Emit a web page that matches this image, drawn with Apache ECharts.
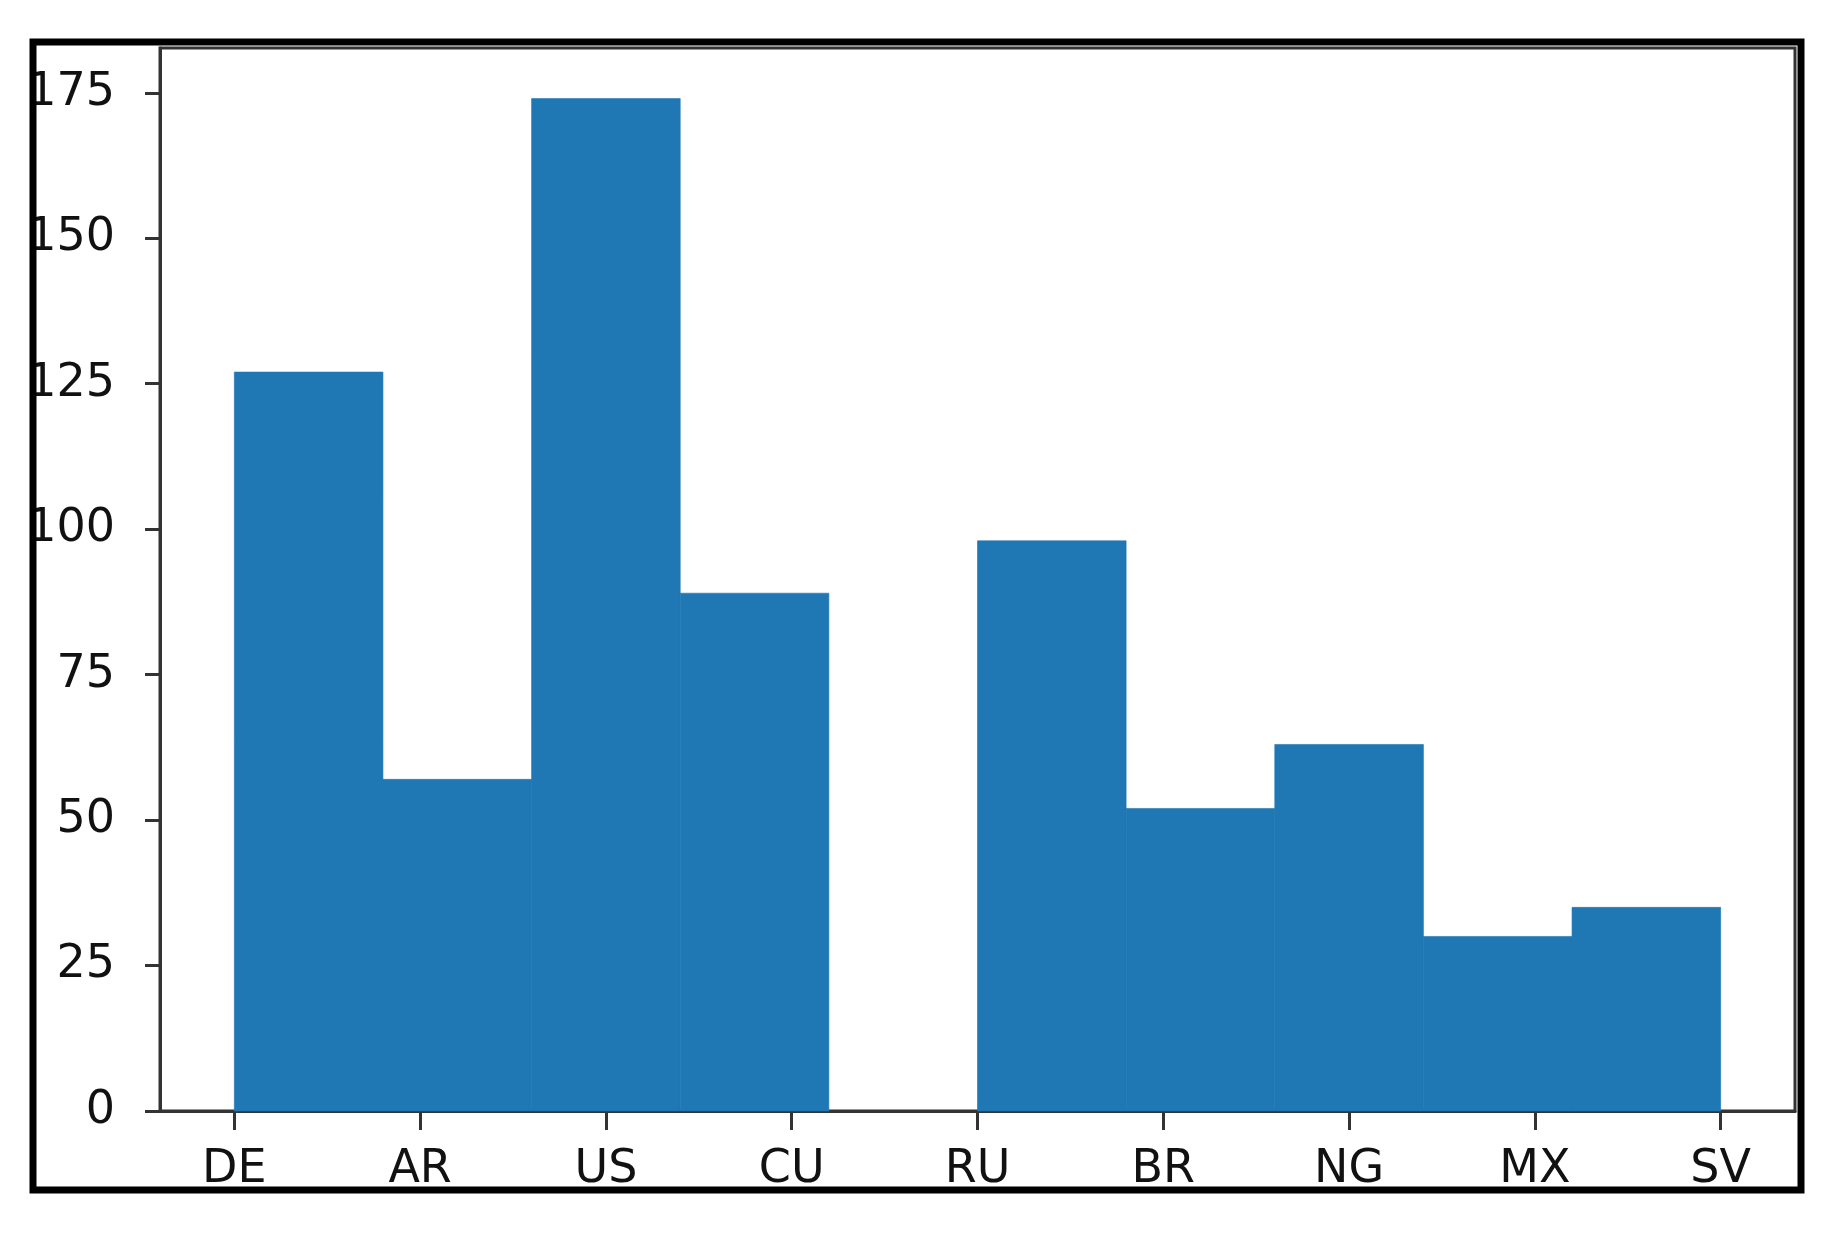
<!DOCTYPE html>
<html>
<head>
<meta charset="utf-8">
<script src="https://cdn.jsdelivr.net/npm/echarts@6/dist/echarts.min.js"></script>
<style>
html,body{margin:0;padding:0;background:#fff;}
#chart{width:1848px;height:1237px;}
</style>
</head>
<body>
<div id="chart"></div>
<script>
const categories = ['DE','AR','US','CU','RU','BR','NG','MX','SV'];
const categoryPositions = [0,1,2,3,4,5,6,7,8];
const binEdges = [0,0.8,1.6,2.4,3.2,4.0,4.8,5.6,6.4,7.2,8.0];
const counts = [127,57,174,89,0,98,52,63,30,35];
const yTicks = [0,25,50,75,100,125,150,175];

const histData = counts.map((c, i) => [binEdges[i], binEdges[i + 1], c]);

const chart = echarts.init(document.getElementById('chart'), null, {renderer: 'canvas'});
const axisColor = '#333';
const labelFont = {fontFamily: 'DejaVu Sans', fontSize: 46, color: '#111'};

chart.setOption({
  backgroundColor: '#fff',
  animation: false,
  grid: {left: 160, top: 48, right: 53, bottom: 126, show: true, borderColor: axisColor, borderWidth: 3, backgroundColor: 'transparent'},
  xAxis: {
    type: 'value', min: -0.4, max: 8.4,
    splitLine: {show: false},
    axisLine: {show: true, onZero: false, lineStyle: {color: axisColor, width: 3}},
    axisTick: {show: true, customValues: categoryPositions, length: 19, lineStyle: {color: axisColor, width: 3}},
    axisLabel: Object.assign({customValues: categoryPositions, margin: 36,
      formatter: v => categories[Math.round(v)]}, labelFont)
  },
  yAxis: {
    type: 'value', min: 0, max: 182.7,
    splitLine: {show: false},
    axisLine: {show: true, onZero: false, lineStyle: {color: axisColor, width: 3}},
    axisTick: {show: true, customValues: yTicks, length: 15, lineStyle: {color: axisColor, width: 3}},
    axisLabel: Object.assign({customValues: yTicks, margin: 45}, labelFont)
  },
  series: [{
    type: 'custom',
    data: histData,
    encode: {x: [0, 1], y: 2},
    z: 1,
    renderItem: function (params, api) {
      const x0 = api.value(0), x1 = api.value(1), v = api.value(2);
      const p0 = api.coord([x0, v]);
      const p1 = api.coord([x1, 0]);
      return {
        type: 'rect',
        shape: {x: p0[0], y: p0[1], width: p1[0] - p0[0], height: p1[1] - p0[1]},
        style: {fill: '#1f77b4', stroke: v > 0 ? '#1f77b4' : null, lineWidth: v > 0 ? 0.6 : 0}
      };
    }
  }],
  graphic: [
    {type: 'rect', z: 99, silent: true, shape: {x: 0, y: 1194, width: 1848, height: 43}, style: {fill: '#fff'}},
    {type: 'rect', z: 100, silent: true, shape: {x: 33, y: 42, width: 1768, height: 1148}, style: {fill: null, stroke: '#000', lineWidth: 7}}
  ]
});
</script>
</body>
</html>
